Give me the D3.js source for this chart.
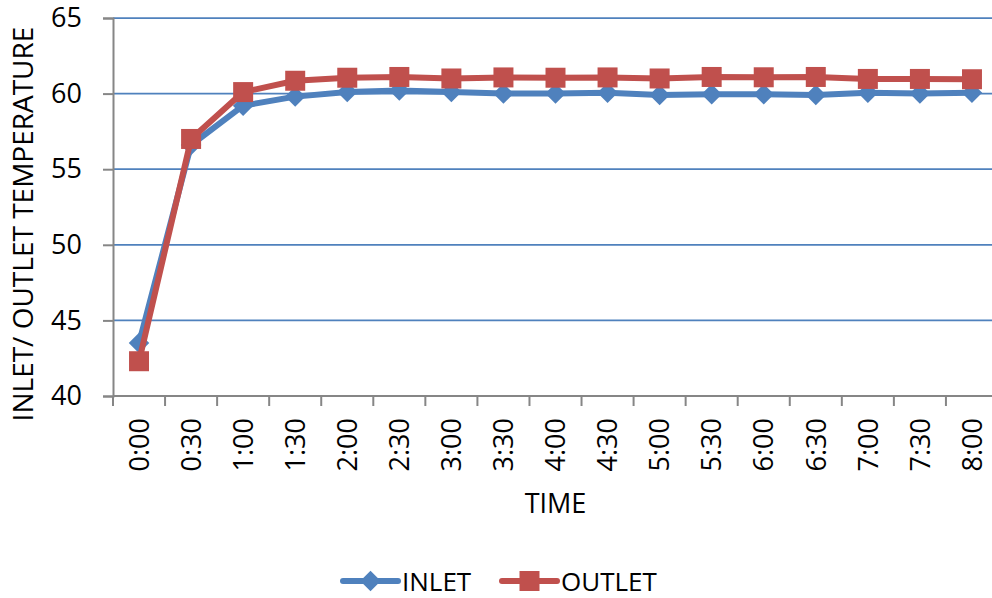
<!DOCTYPE html>
<html>
<head>
<meta charset="utf-8">
<script src="https://cdn.jsdelivr.net/npm/d3@7"></script>
<style>
  html, body { margin: 0; padding: 0; background: #fff; }
  svg { display: block; font-family: "Open Sans", "Liberation Sans", sans-serif; }
</style>
</head>
<body>
<svg id="chart" width="992" height="598"></svg>
<script>
// Half-hourly readings over an eight-hour run
const times = ["0:00","0:30","1:00","1:30","2:00","2:30","3:00","3:30","4:00",
               "4:30","5:00","5:30","6:00","6:30","7:00","7:30","8:00"];
const inletTemp  = [43.5, 56.6, 59.2, 59.8, 60.1, 60.2, 60.1, 60.0, 60.0,
                    60.05, 59.9, 59.95, 59.95, 59.9, 60.05, 60.0, 60.05];
const outletTemp = [42.3, 57.0, 60.1, 60.85, 61.05, 61.1, 61.0, 61.07, 61.05,
                    61.07, 61.0, 61.1, 61.08, 61.1, 60.97, 60.97, 60.95];
const yTicks = [40, 45, 50, 55, 60, 65];
const seriesNames = ["INLET", "OUTLET"];

const svg = d3.select("#chart");
const plot = { left: 113, top: 18, right: 998, bottom: 396 };
const blue = "#4F81BD", red = "#C0504D", axisGrey = "#868686";
const fontSize = 27;

const x = d3.scaleBand().domain(times).range([plot.left, plot.right]).padding(0);
const y = d3.scaleLinear().domain([40, 65]).range([plot.bottom, plot.top]);

// horizontal gridlines
svg.append("g").selectAll("line")
  .data(yTicks.filter(v => v > 40))
  .join("line")
  .attr("x1", plot.left).attr("x2", plot.right)
  .attr("y1", d => y(d)).attr("y2", d => y(d))
  .attr("stroke", blue).attr("stroke-width", 1.75);

// y axis
const yAxis = svg.append("g")
  .attr("transform", `translate(${plot.left},0)`)
  .call(d3.axisLeft(y).tickValues(yTicks).tickSize(10).tickPadding(21).tickFormat(d3.format("d")));
yAxis.select(".domain").attr("stroke", axisGrey).attr("stroke-width", 2);
yAxis.selectAll(".tick line").attr("stroke", axisGrey).attr("stroke-width", 2);
yAxis.selectAll(".tick text")
  .attr("fill", "#000").attr("font-size", fontSize)
  .attr("font-family", "'Open Sans', sans-serif");

// x axis line with ticks on category boundaries
const xAxis = svg.append("g");
xAxis.append("line")
  .attr("x1", plot.left).attr("x2", plot.right)
  .attr("y1", plot.bottom).attr("y2", plot.bottom)
  .attr("stroke", axisGrey).attr("stroke-width", 2);
const bounds = times.map(t => x(t)).concat([x(times[times.length - 1]) + x.bandwidth()]);
xAxis.selectAll("line.tick")
  .data(bounds)
  .join("line").attr("class", "tick")
  .attr("x1", d => d).attr("x2", d => d)
  .attr("y1", plot.bottom).attr("y2", plot.bottom + 10)
  .attr("stroke", axisGrey).attr("stroke-width", 2);
xAxis.selectAll("text")
  .data(times)
  .join("text")
  .attr("transform", d => `translate(${x(d) + x.bandwidth() / 2},${plot.bottom + 22}) rotate(-90)`)
  .attr("text-anchor", "end")
  .attr("dy", "0.36em")
  .attr("font-size", fontSize)
  .attr("fill", "#000")
  .text(d => d);

// axis titles
svg.append("text")
  .attr("x", (plot.left + plot.right) / 2)
  .attr("y", 513)
  .attr("text-anchor", "middle")
  .attr("font-size", fontSize)
  .attr("fill", "#000")
  .text("TIME");
svg.append("text")
  .attr("transform", `translate(33,${224}) rotate(-90)`)
  .attr("text-anchor", "middle")
  .attr("font-size", 28)
  .attr("fill", "#000")
  .text("INLET/ OUTLET TEMPERATURE");

// marker shapes
const diamond = d3.symbol().type(d3.symbolSquare).size(210)();
const square = d3.symbol().type(d3.symbolSquare).size(400)();
function drawMarker(g, kind, color) {
  if (kind === "diamond") {
    g.append("path").attr("d", diamond).attr("transform", "rotate(45)").attr("fill", color);
  } else {
    g.append("path").attr("d", square).attr("fill", color);
  }
}

const series = [
  { name: seriesNames[0], values: inletTemp, color: blue, marker: "diamond" },
  { name: seriesNames[1], values: outletTemp, color: red, marker: "square" }
];

const line = d3.line()
  .x((d, i) => x(times[i]) + x.bandwidth() / 2)
  .y(d => y(d));

series.forEach(s => {
  const g = svg.append("g");
  g.append("path")
    .attr("d", line(s.values))
    .attr("fill", "none")
    .attr("stroke", s.color)
    .attr("stroke-width", 6)
    .attr("stroke-linejoin", "round")
    .attr("stroke-linecap", "round");
  g.selectAll("g.pt")
    .data(s.values)
    .join("g").attr("class", "pt")
    .attr("transform", (d, i) => `translate(${x(times[i]) + x.bandwidth() / 2},${y(d)})`)
    .each(function () { drawMarker(d3.select(this), s.marker, s.color); });
});

// legend
const legendItems = [
  { s: series[0], x0: 343 },
  { s: series[1], x0: 502 }
];
legendItems.forEach(({ s, x0 }) => {
  const g = svg.append("g").attr("transform", `translate(${x0},581)`);
  g.append("line")
    .attr("x1", 0).attr("x2", 55).attr("y1", 0).attr("y2", 0)
    .attr("stroke", s.color).attr("stroke-width", 6).attr("stroke-linecap", "round");
  const m = g.append("g").attr("transform", "translate(27.5,0)");
  drawMarker(m, s.marker, s.color);
  g.append("text")
    .attr("x", 59).attr("y", 9.5)
    .attr("font-size", 26)
    .attr("fill", "#000")
    .text(s.name);
});
</script>
</body>
</html>
